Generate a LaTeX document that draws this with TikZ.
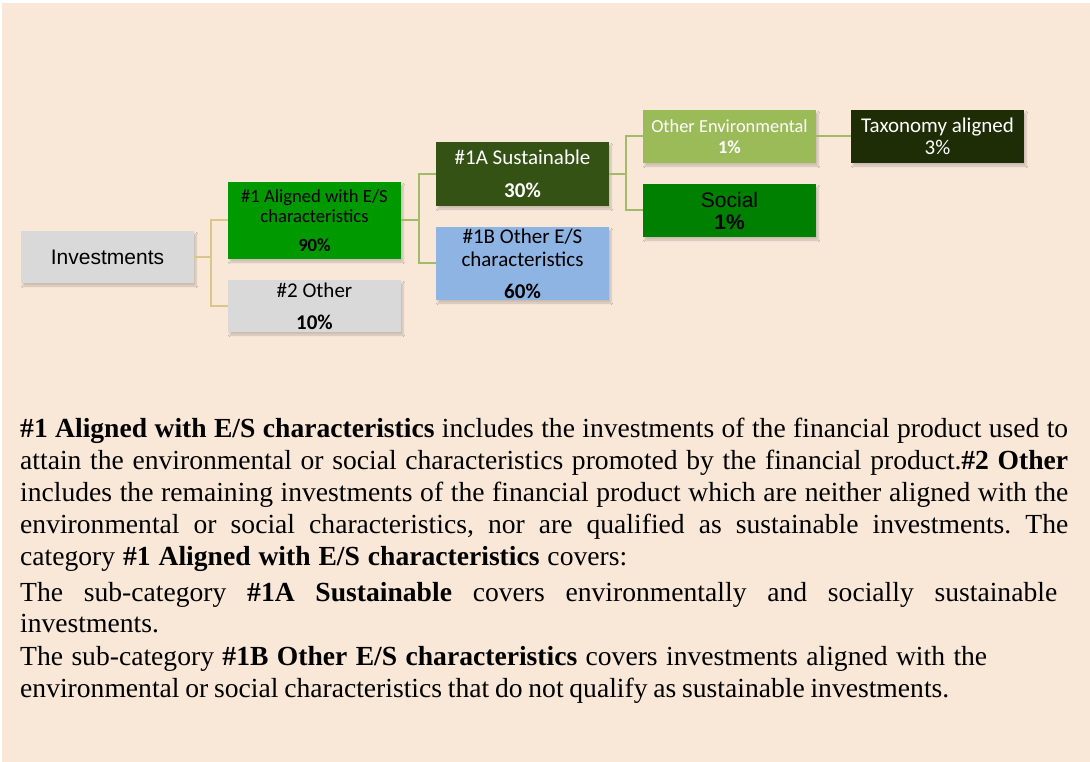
\documentclass[tikz,border=0pt]{standalone}
\usepackage{fontspec}
\setmainfont{Liberation Serif}
\newfontfamily\carlito{Carlito}
\newfontfamily\arialf{Liberation Sans}
\usetikzlibrary{shadows.blur}
\frenchspacing
\definecolor{bgcol}{HTML}{F9E7D8}
\definecolor{greybox}{HTML}{D9D9D9}
\definecolor{greenA}{HTML}{009900}
\definecolor{oliveD}{HTML}{355215}
\definecolor{blueB}{HTML}{8EB4E3}
\definecolor{oliveL}{HTML}{9BBB59}
\definecolor{greenS}{HTML}{008000}
\definecolor{taxo}{HTML}{1F2D06}
\definecolor{tanline}{HTML}{D4C98A}
\definecolor{oliveline}{HTML}{A3BA68}
\tikzset{
  box/.style={rectangle, inner sep=0pt, minimum width=173pt, align=center,
    blur shadow={shadow xshift=2pt, shadow yshift=-3pt, shadow blur steps=6, shadow opacity=18}},
  tanconn/.style={draw=tanline, line width=2pt},
  oliveconn/.style={draw=oliveline, line width=2pt},
  bodyline/.style={anchor=base west, inner sep=0pt, font=\fontsize{27.6pt}{32pt}\selectfont}
}
\begin{document}
\begin{tikzpicture}[x=1pt,y=-1pt]
\useasboundingbox (0,0) rectangle (1090,762);
\fill[white] (0,0) rectangle (1090,762);
\fill[bgcol] (2,3) rectangle (1090,762);

% boxes
\node[box, fill=greybox, minimum height=52pt, font=\arialf\fontsize{21pt}{21pt}\selectfont] (inv) at (107.5,257) {Investments};
\node[box, fill=greenA, minimum height=77pt, font=\carlito\fontsize{18.6pt}{20pt}\selectfont] (a1) at (314.5,220.5)
  {\#1 Aligned with E/S\\characteristics\\[9pt]\textbf{90\%}};
\node[box, fill=greybox, minimum height=52pt, font=\carlito\fontsize{21pt}{32pt}\selectfont] (o2) at (314.5,306)
  {\#2 Other\\\textbf{10\%}};
\node[box, fill=oliveD, text=white, minimum height=64pt, font=\carlito\fontsize{21pt}{33pt}\selectfont] (s1a) at (522.5,174)
  {\#1A Sustainable\\\textbf{30\%}};
\node[box, fill=blueB, minimum height=73pt, font=\carlito\fontsize{21pt}{23pt}\selectfont] (b1b) at (522.5,263.5)
  {\#1B Other E/S\\characteristics\\[9pt]\textbf{60\%}};
\node[box, fill=oliveL, text=white, minimum height=53pt, font=\carlito\fontsize{18.4pt}{21pt}\selectfont] (oenv) at (729.5,136.5)
  {Other Environmental\\\textbf{1\%}};
\node[box, fill=greenS, minimum height=53pt, font=\arialf\fontsize{21pt}{22pt}\selectfont] (soc) at (729.5,210.5)
  {Social\\\textbf{1\%}};
\node[box, fill=taxo, text=white, minimum height=53pt, font=\carlito\fontsize{21pt}{22pt}\selectfont] (tax) at (937.5,136.5)
  {Taxonomy aligned\\3\%};

% connectors
\draw[tanconn] (inv.east) -- ++(17,0) |- (a1.west);
\draw[tanconn] (inv.east) -- ++(17,0) |- (o2.west);
\draw[oliveconn] (a1.east) -- ++(17.5,0) |- (s1a.west);
\draw[oliveconn] (a1.east) -- ++(17.5,0) |- (b1b.west);
\draw[oliveconn] (s1a.east) -- ++(17,0) |- (oenv.west);
\draw[oliveconn] (s1a.east) -- ++(17,0) |- (soc.west);
\draw[oliveconn] (oenv.east) -- (tax.west);

% body text
\node[bodyline] (t1) at (20,437) {\makebox[1048pt][s]{\textbf{\#1 Aligned with E/S characteristics} includes the investments of the financial product used to}};
\node[bodyline] (t2) at (20,469) {\makebox[1048pt][s]{attain the environmental or social characteristics promoted by the financial product.\textbf{\#2 Other}}};
\node[bodyline] (t3) at (20,501) {\makebox[1048pt][s]{includes the remaining investments of the financial product which are neither aligned with the}};
\node[bodyline] (t4) at (20,533) {\makebox[1048pt][s]{environmental or social characteristics, nor are qualified as sustainable investments. The}};
\node[bodyline] (t5) at (20,565) {\makebox[607pt][s]{category \textbf{\#1 Aligned with E/S characteristics} covers:}};
\node[bodyline] (t6) at (20,601) {\makebox[1037pt][s]{The sub-category \textbf{\#1A Sustainable} covers environmentally and socially sustainable}};
\node[bodyline] (t7) at (20,632) {investments.};
\node[bodyline] (t8) at (20,665) {\makebox[967pt][s]{The sub-category \textbf{\#1B Other E/S characteristics} covers investments aligned with the}};
\node[bodyline] (t9) at (20,697) {\makebox[929pt][s]{environmental or social characteristics that do not qualify as sustainable investments.}};
\end{tikzpicture}
\end{document}
